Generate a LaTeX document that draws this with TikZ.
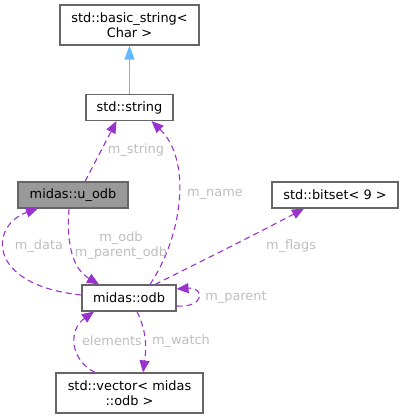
\documentclass[tikz,border=0pt]{standalone}
\usepackage{fontspec}
\setmainfont{DejaVu Sans}
\usetikzlibrary{arrows.meta}
\definecolor{boxline}{HTML}{666666}
\definecolor{usecol}{HTML}{9A32CD}
\definecolor{inhcol}{HTML}{63B8FF}
\definecolor{lblcol}{HTML}{BEBEBE}
\definecolor{curfill}{HTML}{999999}
\begin{document}
\begin{tikzpicture}[x=1pt,y=-1pt,
  font=\fontsize{12.9}{15}\selectfont,
  cls/.style={draw=boxline,line width=1.1pt,fill=white,inner sep=0pt,align=center,text=black},
  lbl/.style={text=lblcol,inner sep=0pt,align=center},
  use/.style={usecol,line width=1.1pt,dash pattern=on 6pt off 4pt,-{Triangle[length=12pt,width=10pt]}},
  inh/.style={inhcol,line width=1.1pt,-{Triangle[length=14pt,width=10pt]}}]
\useasboundingbox (0,0) rectangle (403,419);
\node[cls,minimum width=139pt,minimum height=40pt] (bs) at (129.5,25) {std::basic\_string<\\Char >};
\node[cls,minimum width=87pt,minimum height=26pt] (str) at (129.5,107.5) {std::string};
\node[cls,fill=curfill,minimum width=110pt,minimum height=26pt] (uodb) at (73,195) {midas::u\_odb};
\node[cls,minimum width=126pt,minimum height=26pt] (bits) at (335,195) {std::bitset< 9 >};
\node[cls,minimum width=94pt,minimum height=26pt] (odb) at (129,298) {midas::odb};
\node[cls,minimum width=147pt,minimum height=40pt] (vec) at (129.5,393) {std::vector< midas\\::odb >};

\draw[inh] (str.north) -- (bs.south);
\draw[use] ([xshift=12pt]uodb.north) -- ([xshift=-13pt]str.south);
\draw[use] ([xshift=21pt]odb.north) .. controls (183,235) and (192,160) .. ([xshift=22pt]str.south);
\draw[use] ([yshift=3pt]odb.west) .. controls (-15,285) and (-10,225) .. ([xshift=-35pt]uodb.south);
\draw[use] ([xshift=-4pt]uodb.south) .. controls (66,250) and (75,270) .. ([xshift=-30pt]odb.north);
\draw[use] ([xshift=26pt]odb.north) .. controls (200,262) and (260,232) .. ([xshift=-31pt]bits.south);
\draw[use] ([yshift=-8pt]odb.east) .. controls (205,308) and (205,287) .. ([yshift=9pt]odb.east);
\draw[use] ([xshift=8pt]odb.south) .. controls (148,335) and (146,350) .. ([xshift=13.5pt]vec.north);
\draw[use] ([xshift=-34.5pt]vec.north) .. controls (70,360) and (68,330) .. ([xshift=-35pt]odb.south);

\node[lbl] (lstr) at (136,150) {m\_string};
\node[lbl] (lname) at (215,194) {m\_name};
\node[lbl] (ldata) at (39,246) {m\_data};
\node[lbl] (lodb) at (121,246) {m\_odb\\m\_parent\_odb};
\node[lbl] (lflags) at (291,246) {m\_flags};
\node[lbl] (lpar) at (236,297) {m\_parent};
\node[lbl] (lwatch) at (181,341) {m\_watch};
\node[lbl] (lelem) at (112,341) {elements};
\end{tikzpicture}
\end{document}
